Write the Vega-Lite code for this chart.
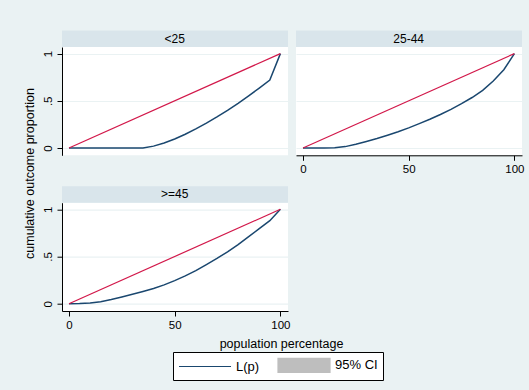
{
  "$schema": "https://vega.github.io/schema/vega-lite/v6.json",
  "background": "#EAF2F3",
  "padding": {"left": 22, "top": 30, "right": 8, "bottom": 12},
  "autosize": {"type": "pad"},
  "bounds": "flush",
  "columns": 2,
  "spacing": {"row": 46.7, "column": 8},
  "resolve": {"scale": {"color": "shared"}, "legend": {"color": "shared"}},
  "data": {"values": [
    {"group": "<25", "p": 0, "L": 0},
    {"group": "<25", "p": 5, "L": 0},
    {"group": "<25", "p": 10, "L": 0},
    {"group": "<25", "p": 15, "L": 0},
    {"group": "<25", "p": 20, "L": 0},
    {"group": "<25", "p": 25, "L": 0},
    {"group": "<25", "p": 30, "L": 0},
    {"group": "<25", "p": 35, "L": 0},
    {"group": "<25", "p": 40, "L": 0.02},
    {"group": "<25", "p": 45, "L": 0.054},
    {"group": "<25", "p": 50, "L": 0.096},
    {"group": "<25", "p": 55, "L": 0.146},
    {"group": "<25", "p": 60, "L": 0.202},
    {"group": "<25", "p": 65, "L": 0.264},
    {"group": "<25", "p": 70, "L": 0.33},
    {"group": "<25", "p": 75, "L": 0.4},
    {"group": "<25", "p": 80, "L": 0.474},
    {"group": "<25", "p": 85, "L": 0.553},
    {"group": "<25", "p": 90, "L": 0.635},
    {"group": "<25", "p": 95, "L": 0.72},
    {"group": "<25", "p": 100, "L": 1},
    {"group": "25-44", "p": 0, "L": 0},
    {"group": "25-44", "p": 5, "L": 0},
    {"group": "25-44", "p": 10, "L": 0},
    {"group": "25-44", "p": 15, "L": 0.002},
    {"group": "25-44", "p": 20, "L": 0.015},
    {"group": "25-44", "p": 25, "L": 0.04},
    {"group": "25-44", "p": 30, "L": 0.07},
    {"group": "25-44", "p": 35, "L": 0.1},
    {"group": "25-44", "p": 40, "L": 0.135},
    {"group": "25-44", "p": 45, "L": 0.172},
    {"group": "25-44", "p": 50, "L": 0.213},
    {"group": "25-44", "p": 55, "L": 0.258},
    {"group": "25-44", "p": 60, "L": 0.305},
    {"group": "25-44", "p": 65, "L": 0.355},
    {"group": "25-44", "p": 70, "L": 0.41},
    {"group": "25-44", "p": 75, "L": 0.47},
    {"group": "25-44", "p": 80, "L": 0.535},
    {"group": "25-44", "p": 85, "L": 0.61},
    {"group": "25-44", "p": 90, "L": 0.71},
    {"group": "25-44", "p": 95, "L": 0.83},
    {"group": "25-44", "p": 100, "L": 1},
    {"group": ">=45", "p": 0, "L": 0},
    {"group": ">=45", "p": 5, "L": 0.002},
    {"group": ">=45", "p": 10, "L": 0.008},
    {"group": ">=45", "p": 15, "L": 0.022},
    {"group": ">=45", "p": 20, "L": 0.045},
    {"group": ">=45", "p": 25, "L": 0.072},
    {"group": ">=45", "p": 30, "L": 0.1},
    {"group": ">=45", "p": 35, "L": 0.13},
    {"group": ">=45", "p": 40, "L": 0.162},
    {"group": ">=45", "p": 45, "L": 0.2},
    {"group": ">=45", "p": 50, "L": 0.245},
    {"group": ">=45", "p": 55, "L": 0.295},
    {"group": ">=45", "p": 60, "L": 0.35},
    {"group": ">=45", "p": 65, "L": 0.415},
    {"group": ">=45", "p": 70, "L": 0.48},
    {"group": ">=45", "p": 75, "L": 0.55},
    {"group": ">=45", "p": 80, "L": 0.625},
    {"group": ">=45", "p": 85, "L": 0.71},
    {"group": ">=45", "p": 90, "L": 0.795},
    {"group": ">=45", "p": 95, "L": 0.88},
    {"group": ">=45", "p": 100, "L": 1}
  ]},
  "concat": [
    {
      "width": 226,
      "height": 108.3,
      "transform": [{"filter": "datum.group == '<25'"}],
      "layer": [
        {"transform": [{"filter": "datum.p == 0"}], "mark": {"type": "rect", "x": 0, "x2": "width", "y": -16.5, "y2": 0, "fill": "#D9E5EB"}, "encoding": {}},
        {
          "transform": [{"filter": "datum.p == 0"}],
          "mark": {"type": "text", "y": -8.5, "baseline": "middle", "align": "center", "fontSize": 12, "font": "Liberation Sans", "color": "black"},
          "encoding": {
            "x": {"datum": 50, "type": "quantitative", "scale": {"domain": [-3.3, 103.6], "nice": false, "zero": false}, "axis": null},
            "text": {"field": "group"}
          }
        },
        {
          "mark": {"type": "line", "strokeWidth": 1.5, "color": "#1A476F"},
          "encoding": {
            "x": {"field": "p", "type": "quantitative", "axis": null},
            "y": {"field": "L", "type": "quantitative", "scale": {"domain": [-0.077, 1.07], "nice": false, "zero": false},
              "axis": {"title": "cumulative outcome proportion", "titleX": -33, "titleY": 126, "titleBaseline": "middle", "titleAngle": -90, "values": [0, 0.5, 1], "grid": true, "labelExpr": "datum.value == 0.5 ? '.5' : format(datum.value, 'd')", "labelAngle": -90, "labelAlign": "center", "labelBaseline": "bottom", "labelPadding": 4}}
          }
        },
        {
          "transform": [{"filter": "datum.p == 0"}],
          "mark": {"type": "rule", "color": "#D2184A", "strokeWidth": 1.2},
          "encoding": {
            "x": {"field": "p", "type": "quantitative", "axis": null},
            "x2": {"datum": 100},
            "y": {"field": "L", "type": "quantitative",
              "axis": {"title": "cumulative outcome proportion", "titleX": -33, "titleY": 126, "titleBaseline": "middle", "titleAngle": -90, "values": [0, 0.5, 1], "grid": true, "labelExpr": "datum.value == 0.5 ? '.5' : format(datum.value, 'd')", "labelAngle": -90, "labelAlign": "center", "labelBaseline": "bottom", "labelPadding": 4}},
            "y2": {"datum": 1}
          }
        }
      ]
    },
    {
      "width": 226,
      "height": 108.3,
      "transform": [{"filter": "datum.group == '25-44'"}],
      "layer": [
        {"transform": [{"filter": "datum.p == 0"}], "mark": {"type": "rect", "x": 0, "x2": "width", "y": -16.5, "y2": 0, "fill": "#D9E5EB"}, "encoding": {}},
        {
          "transform": [{"filter": "datum.p == 0"}],
          "mark": {"type": "text", "y": -8.5, "baseline": "middle", "align": "center", "fontSize": 12, "font": "Liberation Sans", "color": "black"},
          "encoding": {
            "x": {"datum": 50, "type": "quantitative", "scale": {"domain": [-3.3, 103.6], "nice": false, "zero": false},
              "axis": {"title": null, "values": [0, 50, 100], "grid": false, "format": "d", "labelPadding": 3}},
            "text": {"field": "group"}
          }
        },
        {
          "mark": {"type": "line", "strokeWidth": 1.5, "color": "#1A476F"},
          "encoding": {
            "x": {"field": "p", "type": "quantitative",
              "axis": {"title": null, "values": [0, 50, 100], "grid": false, "format": "d", "labelPadding": 3}},
            "y": {"field": "L", "type": "quantitative", "scale": {"domain": [-0.077, 1.07], "nice": false, "zero": false},
              "axis": {"title": null, "values": [0, 0.5, 1], "grid": true, "labels": false, "ticks": false, "domain": false}}
          }
        },
        {
          "transform": [{"filter": "datum.p == 0"}],
          "mark": {"type": "rule", "color": "#D2184A", "strokeWidth": 1.2},
          "encoding": {
            "x": {"field": "p", "type": "quantitative",
              "axis": {"title": null, "values": [0, 50, 100], "grid": false, "format": "d", "labelPadding": 3}},
            "x2": {"datum": 100},
            "y": {"field": "L", "type": "quantitative",
              "axis": {"title": null, "values": [0, 0.5, 1], "grid": true, "labels": false, "ticks": false, "domain": false}},
            "y2": {"datum": 1}
          }
        }
      ]
    },
    {
      "width": 226,
      "height": 108.3,
      "transform": [{"filter": "datum.group == '>=45'"}],
      "layer": [
        {"transform": [{"filter": "datum.p == 0"}], "mark": {"type": "rect", "x": 0, "x2": "width", "y": -16.5, "y2": 0, "fill": "#D9E5EB"}, "encoding": {}},
        {
          "transform": [{"filter": "datum.p == 0"}],
          "mark": {"type": "text", "y": -8.5, "baseline": "middle", "align": "center", "fontSize": 12, "font": "Liberation Sans", "color": "black"},
          "encoding": {
            "x": {"datum": 50, "type": "quantitative", "scale": {"domain": [-3.3, 103.6], "nice": false, "zero": false},
              "axis": {"title": "population percentage", "titleX": 219, "titleY": 32, "titleBaseline": "middle", "values": [0, 50, 100], "grid": false, "format": "d", "labelPadding": 3}},
            "text": {"field": "group"}
          }
        },
        {
          "mark": {"type": "line", "strokeWidth": 1.5},
          "encoding": {
            "x": {"field": "p", "type": "quantitative",
              "axis": {"title": "population percentage", "titleX": 219, "titleY": 32, "titleBaseline": "middle", "values": [0, 50, 100], "grid": false, "format": "d", "labelPadding": 3}},
            "y": {"field": "L", "type": "quantitative", "scale": {"domain": [-0.077, 1.07], "nice": false, "zero": false},
              "axis": {"title": null, "values": [0, 0.5, 1], "grid": true, "labelExpr": "datum.value == 0.5 ? '.5' : format(datum.value, 'd')", "labelAngle": -90, "labelAlign": "center", "labelBaseline": "bottom", "labelPadding": 4}},
            "color": {
              "datum": "L(p)",
              "type": "nominal",
              "scale": {"domain": ["L(p)", "95% CI"], "range": ["#1A476F", "#BEBEBE"]},
              "legend": {
                "orient": "none",
                "legendX": 111,
                "legendY": 305,
                "direction": "horizontal",
                "title": null,
                "strokeColor": "black",
                "fillColor": "white",
                "padding": 5,
                "symbolSize": 196,
                "symbolStrokeWidth": 1.2,
                "labelFontSize": 13,
                "labelFont": "Liberation Sans",
                "labelColor": "black",
                "labelOffset": 42,
                "columnPadding": 15,
                "encode": {
                  "symbols": {
                    "update": {
                      "shape": {"signal": "datum.value === 'L(p)' ? 'M-1,0H6.43' : 'M-1,-1H6.43V1H-1Z'"},
                      "fill": {"signal": "datum.value === 'L(p)' ? 'transparent' : '#BEBEBE'"},
                      "stroke": {"signal": "datum.value === 'L(p)' ? '#1A476F' : 'transparent'"},
                      "strokeWidth": {"value": 1.2},
                      "opacity": {"value": 1}
                    }
                  }
                }
              }
            }
          }
        },
        {
          "transform": [{"filter": "datum.p == 0"}],
          "mark": {"type": "rule", "color": "#D2184A", "strokeWidth": 1.2},
          "encoding": {
            "x": {"field": "p", "type": "quantitative",
              "axis": {"title": "population percentage", "titleX": 219, "titleY": 32, "titleBaseline": "middle", "values": [0, 50, 100], "grid": false, "format": "d", "labelPadding": 3}},
            "x2": {"datum": 100},
            "y": {"field": "L", "type": "quantitative",
              "axis": {"title": null, "values": [0, 0.5, 1], "grid": true, "labelExpr": "datum.value == 0.5 ? '.5' : format(datum.value, 'd')", "labelAngle": -90, "labelAlign": "center", "labelBaseline": "bottom", "labelPadding": 4}},
            "y2": {"datum": 1}
          }
        }
      ]
    }
  ],
  "config": {
    "font": "Liberation Sans",
    "view": {"fill": "white", "stroke": null},
    "axis": {
      "domainColor": "black",
      "tickColor": "black",
      "labelColor": "black",
      "titleColor": "black",
      "labelFont": "Liberation Sans",
      "titleFont": "Liberation Sans",
      "labelFontSize": 11.5,
      "titleFontSize": 12.5,
      "titleFontWeight": "normal",
      "tickSize": 5,
      "domainWidth": 1,
      "tickWidth": 1,
      "gridColor": "#EAF2F3",
      "gridWidth": 1.2
    }
  }
}
